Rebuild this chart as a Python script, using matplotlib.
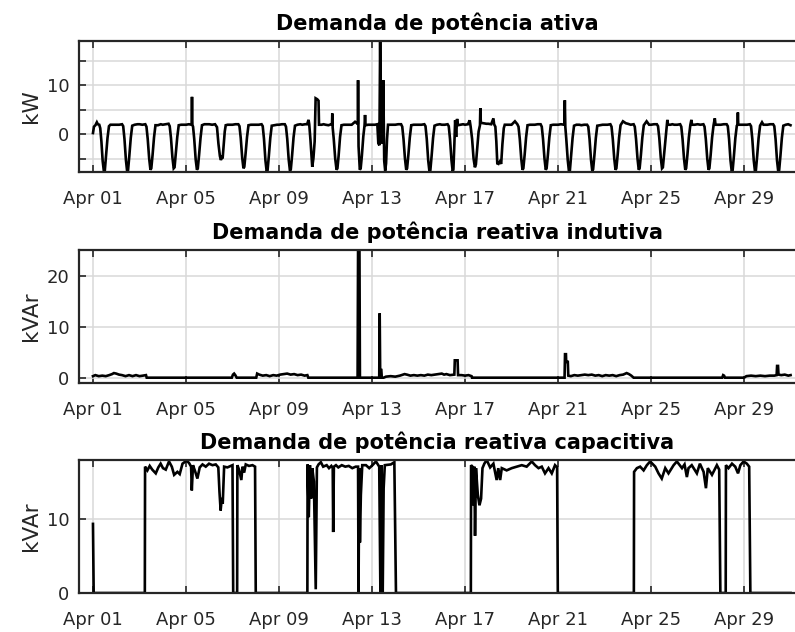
import numpy as np
import pandas as pd
import matplotlib
matplotlib.use("Agg")
from matplotlib import pyplot as plt
import matplotlib.dates as mdates

start = pd.Timestamp("2021-04-01")

# demanda ativa (kW): one row per day of April, pairs of (hour of day, value)
kw_days = [
    [(0, 0.2), (1, 1.5), (2.5, 1.8), (4, 2.4), (5, 2.0), (6.5, 1.9), (7.5, 1.2), (8.7, -1.5), (10, -5.5), (11.3, -7.7), (12.2, -7.5), (13.5, -4.5), (15, -0.8), (16.5, 1.6), (18, 1.9), (21, 1.9)],
    [(0, 1.9), (3, 1.9), (6, 2.0), (7.2, 1.6), (8.5, -1.0), (10, -5.3), (11.3, -7.7), (12.2, -7.4), (13.5, -4.5), (15, -0.8), (16.5, 1.7), (19, 1.9), (22, 2.0)],
    [(0, 2.0), (3, 1.9), (6, 2.0), (7.2, 1.5), (8.5, -1.0), (10, -5.0), (11.3, -7.3), (12.2, -7.0), (13.5, -4.3), (15, -0.7), (16.5, 1.8), (19, 1.8), (22, 2.0)],
    [(0, 1.9), (3, 2.0), (6, 2.1), (7.2, 1.6), (8.5, -0.8), (10, -4.8), (11.3, -7.0), (12.2, -6.8), (13.5, -4.0), (15, -0.6), (16.5, 1.8), (19, 1.9), (22, 1.9)],
    [(0, 1.9), (3, 2.0), (5.8, 1.9), (6.2, 7.6), (6.6, 1.9), (7.3, 1.5), (8.5, -1.0), (10, -5.2), (11.3, -7.3), (12.2, -7.0), (13.5, -4.3), (15, -0.8), (16.5, 1.8), (19, 2.0), (22, 2.0)],
    [(0, 2.0), (3, 1.9), (6, 2.0), (8, 1.4), (9.5, -2.0), (11, -4.5), (12, -5.3), (13, -4.8), (13.8, -5.0), (14.8, -2.5), (16, 0.5), (17, 1.8), (19, 1.9), (22, 1.9)],
    [(0, 1.9), (3, 2.0), (6, 2.0), (7.2, 1.6), (8.5, -0.8), (10, -4.8), (11.3, -7.0), (12.2, -6.7), (13.5, -4.0), (15, -0.6), (16.5, 1.8), (19, 1.9), (22, 1.9)],
    [(0, 1.9), (3, 1.9), (6, 2.0), (7.2, 1.6), (8.5, -1.0), (10, -5.4), (11.3, -7.7), (12.2, -7.4), (13.5, -4.5), (15, -0.8), (16.5, 1.7), (19, 1.8), (22, 1.9)],
    [(0, 1.9), (3, 2.0), (6, 2.0), (7.2, 1.5), (8.5, -1.0), (10, -5.2), (11.3, -7.5), (12.2, -7.2), (13.5, -4.4), (15, -0.7), (16.5, 1.7), (19, 1.9), (22, 2.0)],
    [(0, 1.9), (3, 2.0), (5, 2.0), (6.5, 2.9), (7.2, 2.0), (8.5, -1.3), (10.3, -6.7), (11.5, -5.0), (12.8, -1.5), (13.8, 7.3), (15.5, 7.1), (16.8, 6.8), (17.3, 1.9), (20, 1.9), (22, 2.0)],
    [(0, 1.9), (3, 1.8), (6, 2.0), (6.7, 2.0), (7.0, 4.2), (7.4, 1.3), (8.5, -1.0), (10, -5.0), (11.4, -7.3), (12.3, -7.0), (13.5, -4.5), (15, -0.6), (16.5, 1.8), (19, 1.9), (22, 1.9)],
    [(0, 1.9), (3, 1.9), (6.5, 2.5), (8.5, 2.2), (9.3, 2.0), (9.6, 11.0), (10.1, -2.5), (11.4, -7.3), (12.3, -7.0), (13.5, -4.5), (15, -0.5), (16.3, 1.8), (16.8, 3.9), (17.3, 1.8), (20, 1.9), (22, 1.9)],
    [(0, 1.9), (3, 1.9), (5.5, 2.0), (6.5, -1.9), (7.6, -2.3), (8.4, 19.0), (9.4, -1.9), (10.8, -1.5), (11.6, 11.0), (12.6, -5.5), (13.6, -7.5), (14.5, -6.0), (15.5, -1.0), (16.5, 1.9), (19, 1.9), (22, 1.9)],
    [(0, 1.9), (3, 2.0), (6, 2.0), (7.2, 1.5), (8.5, -1.0), (10, -5.0), (11.3, -7.3), (12.2, -7.0), (13.5, -4.3), (15, -0.7), (16.5, 1.8), (19, 1.9), (22, 1.9)],
    [(0, 1.9), (3, 1.9), (6, 2.0), (7.2, 1.6), (8.5, -1.0), (10, -5.4), (11.3, -7.7), (12.2, -7.4), (13.5, -4.5), (15, -0.8), (16.5, 1.7), (19, 1.9), (22, 2.0)],
    [(0, 1.9), (3, 1.9), (6, 2.0), (7.2, 1.6), (8.5, -1.0), (10, -5.3), (11.3, -7.7), (12.0, -7.2), (13.0, -2.0), (13.8, 2.8), (14.8, -0.6), (15.8, 3.1), (16.5, 1.8), (19, 1.9), (22, 2.0)],
    [(0, 1.9), (3, 2.0), (4.8, 2.8), (5.8, 1.5), (7.3, -1.0), (8.8, -5.0), (10.2, -6.8), (11.2, -6.2), (12.5, -3.0), (14, 0.5), (15.4, 1.8), (15.8, 5.3), (16.3, 2.3), (19, 2.2), (22, 2.1)],
    [(0, 2.1), (3, 2.0), (5.3, 3.2), (6, 2.0), (7.3, 1.5), (8.3, -1.5), (9.3, -6.0), (10.5, -6.1), (12, -5.6), (13.3, -6.1), (14.6, -2.0), (16, 1.2), (17, 1.9), (19, 1.9), (22, 1.9)],
    [(0, 1.9), (3.5, 2.6), (6, 2.0), (7.2, 1.5), (8.5, -1.0), (10, -5.0), (11.3, -7.3), (12.2, -7.0), (13.5, -4.3), (15, -0.7), (16.5, 1.8), (19, 1.9), (22, 1.9)],
    [(0, 1.9), (3, 2.0), (6, 2.0), (7.2, 1.5), (8.5, -1.0), (10, -5.0), (11.3, -7.3), (12.2, -7.0), (13.5, -4.3), (15, -0.7), (16.5, 1.8), (19, 1.9), (22, 1.9)],
    [(0, 1.9), (3, 2.0), (6.5, 1.9), (7.0, 6.9), (7.5, 1.5), (8.5, -1.0), (10, -5.3), (11.3, -7.7), (12.2, -7.5), (13.5, -4.5), (15, -0.8), (16.5, 1.7), (19, 1.9), (22, 1.9)],
    [(0, 1.8), (3, 1.9), (6, 1.9), (7.2, 1.5), (8.5, -1.0), (10, -5.2), (11.3, -7.5), (12.2, -7.2), (13.5, -4.4), (15, -0.8), (16.5, 1.7), (19, 1.8), (22, 1.9)],
    [(0, 1.9), (3, 1.9), (6, 2.0), (7.2, 1.5), (8.5, -1.0), (10, -5.0), (11.3, -7.3), (12.2, -7.0), (13.5, -4.3), (15, -0.7), (16.5, 1.8), (19, 2.6), (22, 2.2)],
    [(0, 2.1), (3, 1.9), (6, 2.0), (7.2, 1.5), (8.5, -1.0), (10, -5.0), (11.3, -7.3), (12.2, -7.0), (13.5, -4.3), (15, -0.7), (16.5, 1.8), (19.4, 2.6), (22, 1.9)],
    [(0, 1.9), (3, 2.0), (6, 2.0), (7.2, 1.6), (8.5, -0.8), (10, -4.8), (11.3, -7.0), (12.2, -6.8), (13.5, -4.0), (15, -0.6), (16.3, 1.8), (16.8, 2.9), (17.5, 1.9), (20, 1.9), (22, 2.0)],
    [(0, 1.9), (3, 1.9), (6, 2.0), (7.2, 1.5), (8.5, -1.0), (10, -5.0), (11.3, -7.3), (12.2, -7.0), (13.5, -4.3), (15, -0.7), (16.5, 1.8), (17.6, 2.9), (18.3, 1.9), (21, 1.9)],
    [(0, 2.0), (3, 1.9), (6, 2.0), (7.2, 1.5), (8.5, -1.0), (10, -5.0), (11.3, -7.3), (12.2, -7.0), (13.5, -4.3), (15, -0.7), (16.5, 1.8), (17.8, 3.2), (18.5, 1.9), (21, 1.9)],
    [(0, 1.9), (3, 2.0), (6, 2.0), (7.2, 1.6), (8.5, -1.0), (10, -5.4), (11.3, -7.7), (12.2, -7.4), (13.5, -4.5), (15, -0.8), (16.5, 1.7), (17.2, 1.9), (17.6, 4.4), (18.0, 1.9), (21, 1.9)],
    [(0, 1.9), (3, 1.9), (6, 2.0), (7.2, 1.6), (8.5, -1.0), (10, -5.4), (11.3, -7.7), (12.2, -7.4), (13.5, -4.5), (15, -0.8), (16.5, 1.7), (18.5, 2.4), (20, 1.9), (22, 1.9)],
    [(0, 1.9), (3, 2.0), (6, 2.0), (7.2, 1.6), (8.5, -1.0), (10, -5.4), (11.3, -7.7), (12.2, -7.4), (13.5, -4.5), (15, -0.8), (16.5, 1.7), (19, 1.9), (21.5, 2.0), (23.9, 1.8)],
]

# reativa indutiva (kVAr): (days since Apr 01 00:00, value)
kvar_ind = [
    (0.00, 0.3), (0.10, 0.5), (0.25, 0.3), (0.40, 0.4), (0.55, 0.3), (0.70, 0.5), (0.82, 0.7), (0.90, 0.9),
    (1.00, 0.8), (1.12, 0.6), (1.25, 0.5), (1.40, 0.3), (1.55, 0.5), (1.70, 0.3), (1.85, 0.5), (2.00, 0.3),
    (2.15, 0.4), (2.28, 0.5), (2.31, 0.0),
    (5.97, 0.0), (6.02, 0.6), (6.07, 0.8), (6.12, 0.5), (6.18, 0.0),
    (7.02, 0.0), (7.06, 0.8), (7.15, 0.6), (7.30, 0.4), (7.45, 0.5), (7.60, 0.3), (7.75, 0.5), (7.90, 0.4),
    (8.05, 0.6), (8.20, 0.7), (8.35, 0.8), (8.50, 0.6), (8.65, 0.7), (8.80, 0.5), (8.95, 0.6), (9.10, 0.4),
    (9.22, 0.5), (9.26, 0.0),
    (11.38, 0.0), (11.40, 25.0), (11.46, 25.0), (11.48, 0.0),
    (12.31, 0.0), (12.33, 12.6), (12.35, 1.5), (12.40, 1.5), (12.42, 0.0),
    (12.50, 0.0), (12.60, 0.2), (12.80, 0.3), (13.00, 0.2), (13.20, 0.4), (13.40, 0.7), (13.50, 0.6),
    (13.65, 0.4), (13.80, 0.5), (13.95, 0.4), (14.10, 0.5), (14.25, 0.4), (14.40, 0.6), (14.55, 0.5),
    (14.70, 0.6), (14.85, 0.7), (15.00, 0.8), (15.10, 0.6), (15.20, 0.7), (15.35, 0.5), (15.54, 0.6),
    (15.56, 3.4), (15.68, 3.4), (15.70, 0.5), (15.85, 0.5), (16.00, 0.4), (16.15, 0.5), (16.28, 0.3),
    (16.30, 0.0),
    (20.28, 0.0), (20.30, 4.6), (20.34, 4.6), (20.35, 3.1), (20.42, 3.1), (20.44, 0.4),
    (20.55, 0.3), (20.70, 0.5), (20.85, 0.4), (21.00, 0.5), (21.15, 0.6), (21.30, 0.5), (21.45, 0.6),
    (21.60, 0.4), (21.75, 0.5), (21.90, 0.3), (22.05, 0.5), (22.20, 0.4), (22.35, 0.5), (22.50, 0.3),
    (22.65, 0.5), (22.80, 0.6), (22.95, 0.9), (23.05, 0.7), (23.15, 0.4), (23.25, 0.0),
    (27.06, 0.0), (27.10, 0.5), (27.14, 0.4), (27.18, 0.0),
    (28.00, 0.0), (28.10, 0.3), (28.30, 0.4), (28.50, 0.3), (28.70, 0.4), (28.90, 0.3), (29.10, 0.4),
    (29.30, 0.4), (29.40, 0.5), (29.42, 2.3), (29.46, 2.3), (29.48, 0.6), (29.60, 0.5), (29.75, 0.6),
    (29.90, 0.4), (30.00, 0.5),
]

# reativa capacitiva (kVAr): (days since Apr 01 00:00, value)
kvar_cap = [
    (0.00, 9.3), (0.03, 0.0), (2.23, 0.0),
    (2.24, 17.0), (2.34, 16.5), (2.44, 17.1), (2.55, 16.6), (2.70, 16.1), (2.81, 16.9), (2.91, 17.4),
    (3.01, 16.8), (3.13, 16.6), (3.27, 17.7), (3.39, 17.0), (3.49, 15.9), (3.63, 16.3), (3.73, 16.0),
    (3.85, 17.4), (4.02, 17.8), (4.13, 17.5), (4.22, 17.0), (4.25, 13.8), (4.30, 17.2), (4.39, 16.4),
    (4.49, 15.4), (4.59, 16.9), (4.71, 17.3), (4.85, 17.0), (4.99, 17.4), (5.14, 17.2), (5.28, 17.3),
    (5.39, 16.9), (5.44, 13.6), (5.49, 11.1), (5.54, 12.8), (5.58, 12.0), (5.64, 17.0), (5.78, 16.9),
    (5.93, 17.1), (6.00, 17.2), (6.03, 0.0), (6.20, 0.0),
    (6.21, 17.2), (6.28, 16.6), (6.38, 15.2), (6.43, 17.0), (6.50, 16.2), (6.57, 17.3), (6.71, 17.1),
    (6.86, 17.2), (6.97, 17.0), (7.00, 0.0), (9.22, 0.0),
    (9.23, 17.3), (9.28, 10.2), (9.33, 17.2), (9.38, 12.7), (9.43, 16.8), (9.50, 15.0), (9.58, 0.5),
    (9.63, 16.9), (9.70, 17.3), (9.80, 17.6), (9.90, 17.0), (10.05, 17.2), (10.15, 16.8), (10.25, 17.1),
    (10.31, 16.8), (10.33, 8.2), (10.36, 17.0), (10.45, 17.2), (10.55, 16.9), (10.70, 17.2), (10.85, 17.0),
    (11.00, 17.1), (11.15, 16.8), (11.30, 17.0), (11.40, 17.0), (11.42, 0.0), (11.45, 16.8), (11.48, 6.8),
    (11.52, 13.2), (11.58, 17.2), (11.74, 17.2), (11.88, 16.8), (12.02, 17.2), (12.17, 17.7), (12.31, 17.0),
    (12.36, 0.2), (12.40, 17.2), (12.46, 0.0), (12.50, 14.1), (12.55, 17.2), (12.81, 17.3), (12.96, 17.6),
    (13.03, 0.0), (16.25, 0.0),
    (16.26, 17.2), (16.32, 17.0), (16.36, 11.8), (16.40, 17.0), (16.43, 7.7), (16.47, 16.8), (16.55, 13.2),
    (16.62, 11.8), (16.69, 12.7), (16.75, 16.8), (16.83, 17.4), (16.93, 17.9), (17.08, 16.9), (17.22, 17.4),
    (17.36, 15.2), (17.43, 16.8), (17.51, 15.2), (17.58, 16.8), (17.79, 16.5), (18.01, 16.8), (18.22, 17.0),
    (18.44, 17.2), (18.65, 17.0), (18.87, 17.7), (19.01, 17.2), (19.16, 16.8), (19.30, 17.0), (19.44, 16.1),
    (19.59, 16.8), (19.73, 16.1), (19.87, 17.2), (19.96, 16.9), (19.99, 0.0), (23.26, 0.0),
    (23.27, 16.3), (23.39, 16.8), (23.53, 17.0), (23.68, 16.5), (23.82, 17.2), (23.96, 17.7), (24.18, 17.0),
    (24.32, 16.1), (24.46, 15.4), (24.61, 16.8), (24.75, 16.1), (24.97, 17.2), (25.11, 17.7), (25.33, 16.8),
    (25.44, 17.3), (25.54, 15.6), (25.61, 16.8), (25.75, 17.2), (25.97, 16.1), (26.10, 17.4), (26.26, 16.3),
    (26.36, 14.1), (26.44, 16.8), (26.62, 15.9), (26.83, 17.2), (26.93, 16.6), (26.98, 0.0), (27.21, 0.0),
    (27.22, 17.2), (27.33, 16.8), (27.48, 17.4), (27.62, 17.0), (27.74, 16.1), (27.84, 17.2), (27.98, 17.7),
    (28.12, 17.4), (28.22, 17.0), (28.27, 0.0), (30.00, 0.0),
]

titles = ["Demanda de potência ativa",
          "Demanda de potência reativa indutiva",
          "Demanda de potência reativa capacitiva"]
ylabels = ["kW", "kVAr", "kVAr"]
ylims = [(-7.76, 19.0), (-1.04, 25.0), (0.0, 17.9)]
yticks = [[-5, 0, 5, 10, 15], [0, 10, 20], [0, 10]]
yticklabels = [["", "0", "", "10", ""], ["0", "10", "20"], ["0", "10"]]
tick_dates = pd.date_range("2021-04-01", "2021-04-29", freq="4D")

kw_t = [d + h / 24 for d, row in enumerate(kw_days) for h, v in row]
kw_v = [v for row in kw_days for h, v in row]
series = [
    (kw_t, kw_v),
    ([p[0] for p in kvar_ind], [p[1] for p in kvar_ind]),
    ([p[0] for p in kvar_cap], [p[1] for p in kvar_cap]),
]

fig = plt.figure(figsize=(7.95, 6.32), dpi=100)
positions = [[0.0994, 0.7278, 0.9006, 0.2073],
             [0.0994, 0.3940, 0.9006, 0.2104],
             [0.0994, 0.0617, 0.9006, 0.2105]]

for i in range(3):
    ax = fig.add_axes(positions[i])
    t, v = series[i]
    times = start + pd.to_timedelta(np.array(t), unit="D")
    ax.plot(times, v, color="black", lw=1.9, solid_joinstyle="miter")

    ax.set_xlim(start - pd.Timedelta(days=0.6), start + pd.Timedelta(days=30.19))
    ax.set_ylim(*ylims[i])
    ax.set_xticks(tick_dates)
    ax.xaxis.set_major_formatter(mdates.DateFormatter("%b %d"))
    ax.set_yticks(yticks[i])
    ax.set_yticklabels(yticklabels[i])

    ax.grid(True, color="#d9d9d9", lw=1.1)
    ax.set_axisbelow(True)
    ax.tick_params(direction="in", length=5, width=1.2, colors="#262626",
                   labelsize=13, top=True, right=False)
    ax.tick_params(axis="x", pad=13)
    ax.tick_params(axis="y", pad=7)
    for side in ["left", "top", "bottom"]:
        ax.spines[side].set_color("#262626")
        ax.spines[side].set_linewidth(1.6)
    ax.spines["right"].set_visible(False)

    ax.set_title(titles[i], fontsize=15, fontweight="bold", pad=8)
    ax.set_ylabel(ylabels[i], fontsize=15.5, color="#262626", labelpad=4)

fig.savefig("out.png", dpi=100)
